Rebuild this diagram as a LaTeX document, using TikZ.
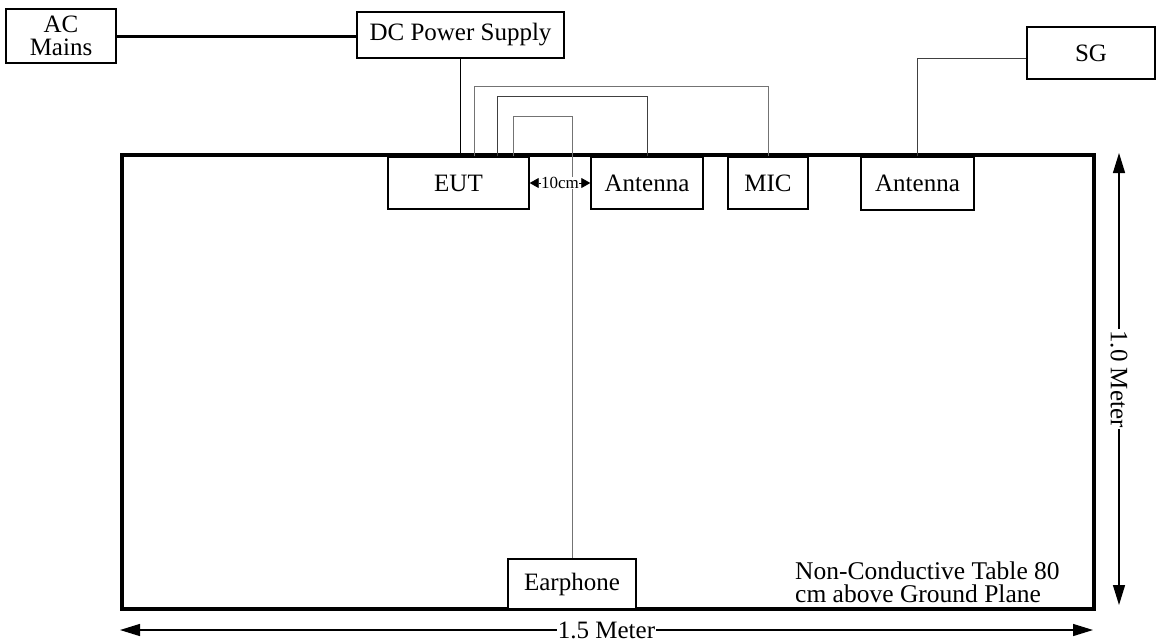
\documentclass[tikz,border=0pt]{standalone}
\usepackage{fontspec}
\setmainfont{Liberation Serif}
\usetikzlibrary{arrows.meta}
\begin{document}
\begin{tikzpicture}[x=1pt,y=-1pt,
  txt/.style={font=\fontsize{25}{24}\selectfont},
  box/.style={draw,line width=1.4pt,minimum width=#1,inner sep=0pt,txt,align=center},
  wire/.style={line width=1pt,draw=black!55},
  dim/.style={line width=1.3pt,{Triangle[length=20pt,width=12pt]}-{Triangle[length=20pt,width=12pt]}},
  lbl/.style={fill=white,inner sep=1pt,txt}]
\useasboundingbox (0,0) rectangle (1158,643);
% table
\draw[line width=3.5pt] (122,155) rectangle (1094,609);
% boxes
\node[box=110pt,minimum height=54pt] (AC) at (61,36) {AC\\[-1pt]Mains};
\node[box=207pt,minimum height=46pt] (DC) at (460.5,35) {DC Power Supply};
\node[box=128pt,minimum height=52pt] (SG) at (1091,53) {SG};
\node[box=141pt,minimum height=52pt,fill=white] (EUT) at (458.5,183) {EUT};
\node[box=112pt,minimum height=52pt,fill=white] (A1) at (647,183) {Antenna};
\node[box=80pt,minimum height=52pt,fill=white] (MIC) at (768,183) {MIC};
\node[box=113pt,minimum height=53pt,fill=white] (A2) at (917.5,183.5) {Antenna};
\node[box=128pt,minimum height=50pt,fill=white] (EP) at (572,584) {Earphone};
% connections
\draw[line width=3pt] (AC.east) -- (AC.east -| DC.west);
\draw[line width=1pt] (DC.south) -- (DC.south |- EUT.north);
\draw[wire] ([xshift=16pt]EUT.north) -- ++(0,-70) -| (MIC.north);
\draw[wire,draw=black!75] ([xshift=39pt]EUT.north) -- ++(0,-60) -| (A1.north);
\draw[wire] ([xshift=54.5pt]EUT.north) -- ++(0,-40) -| (EP.north);
\draw[wire,draw=black!75] ([yshift=-5pt]SG.west) -| (A2.north);
% 10cm
\draw[line width=0.8pt,{Triangle[length=9pt,width=10pt]}-{Triangle[length=9pt,width=10pt]}] (EUT.east) -- node[fill=white,inner sep=0pt,font=\fontsize{17}{18}\selectfont]{10cm} (A1.east -| A1.west);
% dimensions
\coordinate (h1) at (120,630);
\coordinate (h2) at (1093,630);
\coordinate (v1) at (1119,153);
\coordinate (v2) at (1119,605);
\draw[dim] (h1) -- node[lbl]{1.5 Meter} (h2);
\draw[dim] (v1) -- node[lbl,rotate=-90]{1.0 Meter} (v2);
% note
\node[anchor=north west,align=left,inner sep=0pt,font=\fontsize{25.5}{23}\selectfont] (note) at (795,562) {Non-Conductive Table 80\\cm above Ground Plane};
\end{tikzpicture}
\end{document}
